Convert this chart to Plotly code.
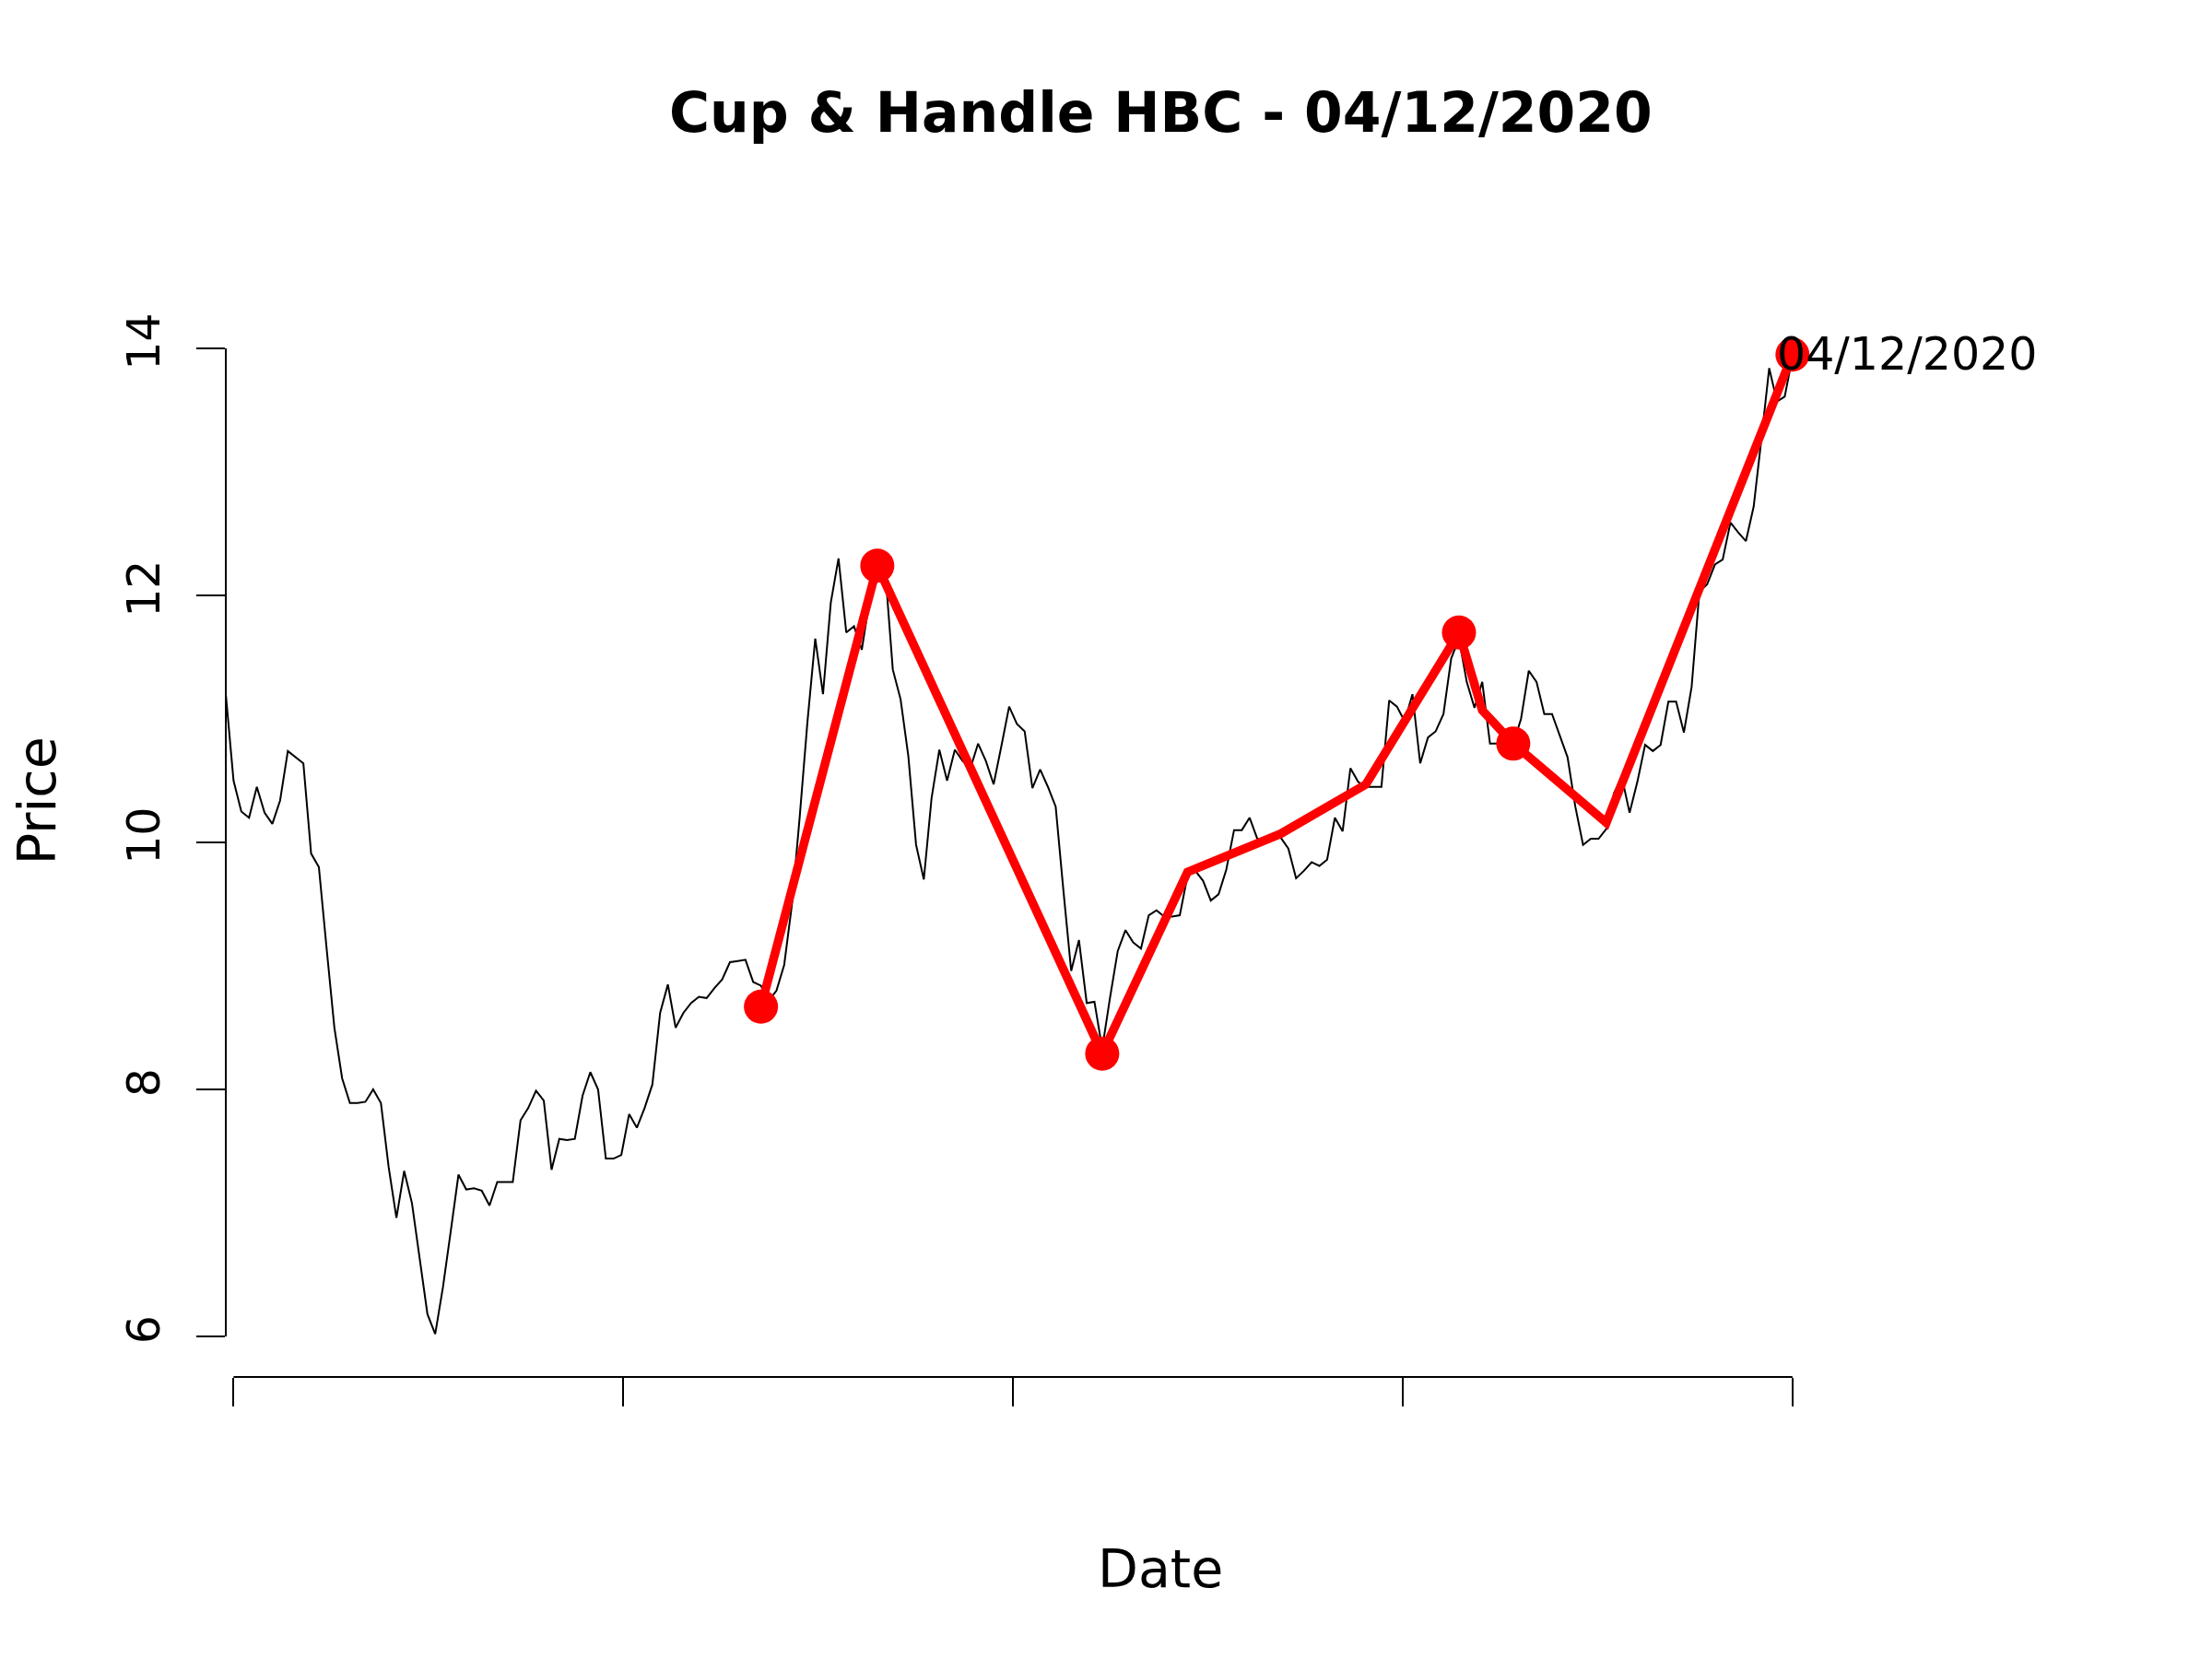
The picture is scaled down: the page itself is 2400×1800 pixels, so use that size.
import plotly.graph_objects as go

# ---------------- data ----------------
price = [
    11.20, 10.50, 10.25, 10.20, 10.45, 10.24, 10.15, 10.34, 10.74, 10.69,
    10.64, 9.91, 9.80, 9.14, 8.50, 8.09, 7.89, 7.89, 7.90, 8.00,
    7.89, 7.37, 6.96, 7.34, 7.08, 6.63, 6.18, 6.02, 6.40, 6.85,
    7.31, 7.19, 7.20, 7.18, 7.06, 7.25, 7.25, 7.25, 7.75, 7.85,
    7.99, 7.91, 7.35, 7.60, 7.59, 7.60, 7.95, 8.14, 8.00, 7.44,
    7.44, 7.47, 7.80, 7.69, 7.85, 8.04, 8.62, 8.85, 8.50, 8.62,
    8.70, 8.75, 8.74, 8.82, 8.89, 9.03, 9.04, 9.05, 8.87, 8.84,
    8.72, 8.80, 9.01, 9.50, 10.21, 10.98, 11.65, 11.20, 11.94, 12.30,
    11.70, 11.75, 11.56, 11.96, 12.13, 12.22, 11.40, 11.16, 10.70, 9.98,
    9.70, 10.36, 10.75, 10.50, 10.75, 10.66, 10.60, 10.80, 10.66, 10.47,
    10.78, 11.10, 10.96, 10.90, 10.44, 10.59, 10.45, 10.29, 9.61, 8.96,
    9.21, 8.70, 8.71, 8.33, 8.74, 9.12, 9.29, 9.19, 9.14, 9.41,
    9.45, 9.40, 9.40, 9.41, 9.73, 9.77, 9.69, 9.53, 9.58, 9.78,
    10.10, 10.10, 10.20, 10.03, 10.02, 10.03, 10.04, 9.95, 9.71, 9.77,
    9.84, 9.81, 9.86, 10.20, 10.09, 10.60, 10.49, 10.45, 10.45, 10.45,
    11.15, 11.10, 10.98, 11.20, 10.64, 10.85, 10.90, 11.04, 11.49, 11.65,
    11.30, 11.09, 11.30, 10.80, 10.80, 10.80, 10.80, 11.00, 11.39, 11.30,
    11.04, 11.04, 10.86, 10.69, 10.29, 9.98, 10.03, 10.03, 10.11, 10.40,
    10.53, 10.24, 10.49, 10.79, 10.74, 10.79, 11.14, 11.14, 10.89, 11.26,
    12.03, 12.09, 12.25, 12.29, 12.59, 12.51, 12.44, 12.72, 13.27, 13.84,
    13.57, 13.61, 13.93,
]
day = list(range(len(price)))

# cup & handle pattern outline (day index, price)
pattern_day = [69, 84, 113, 124, 136, 147, 159, 162, 166, 178, 202]
pattern_price = [8.67, 12.24, 8.29, 9.76, 10.07, 10.47, 11.70, 11.07, 10.80, 10.16, 13.95]

# key points of the pattern (red dots)
key_day = [69, 84, 113, 159, 166, 202]
key_price = [8.67, 12.24, 8.29, 11.70, 10.80, 13.95]

signal_label = "04/12/2020"
title_text = "Cup & Handle HBC - 04/12/2020"
x_label = "Date"
y_label = "Price"

y_ticks = [6, 8, 10, 12, 14]
x_tick_pos = [1, 51.25, 101.5, 151.75, 202]
x_tick_text = ["", "", "", "", ""]

# ---------------- figure ----------------
FONT = "DejaVu Sans"

fig = go.Figure()

fig.add_trace(go.Scatter(
    x=day, y=price, mode="lines",
    line=dict(color="black", width=2),
    hoverinfo="skip", showlegend=False,
))

fig.add_trace(go.Scatter(
    x=pattern_day, y=pattern_price, mode="lines",
    line=dict(color="#FF0000", width=9.5),
    hoverinfo="skip", showlegend=False,
))

fig.add_trace(go.Scatter(
    x=key_day, y=key_price, mode="markers",
    marker=dict(color="#FF0000", size=37, line=dict(width=0)),
    cliponaxis=False,
    hoverinfo="skip", showlegend=False,
))

# label at the last key point
fig.add_annotation(
    x=key_day[-1], y=key_price[-1], xref="x", yref="y",
    text=signal_label, showarrow=False,
    xanchor="left", yanchor="middle", xshift=-19,
    font=dict(family=FONT, size=49, color="black"),
)

# axis titles
fig.add_annotation(
    x=0.5, y=-0.166, xref="paper", yref="paper",
    text=x_label, showarrow=False, xanchor="center", yanchor="middle",
    font=dict(family=FONT, size=57, color="black"),
)
fig.add_annotation(
    x=-0.1044, y=0.5, xref="paper", yref="paper", xshift=7,
    text=y_label, showarrow=False, textangle=-90,
    xanchor="center", yanchor="middle",
    font=dict(family=FONT, size=57, color="black"),
)
# title
fig.add_annotation(
    x=0.5, y=1.0976, xref="paper", yref="paper",
    text="<b>" + title_text + "</b>", showarrow=False,
    xanchor="center", yanchor="middle",
    font=dict(family=FONT, size=60, color="black"),
)

# R-style detached axis lines
fig.add_shape(type="line", xref="paper", yref="y",
              x0=0, x1=0, y0=min(y_ticks), y1=max(y_ticks),
              line=dict(color="black", width=2))
fig.add_shape(type="line", xref="x", yref="paper",
              x0=x_tick_pos[0], x1=x_tick_pos[-1], y0=0, y1=0,
              line=dict(color="black", width=2))

fig.update_layout(
    width=2392, height=1792,
    margin=dict(l=237, r=127, t=236, b=306, autoexpand=False),
    paper_bgcolor="white", plot_bgcolor="white",
    showlegend=False,
    font=dict(family=FONT, color="black"),
    xaxis=dict(
        range=[0, 241], showgrid=False, zeroline=False, showline=False,
        tickmode="array", tickvals=x_tick_pos, ticktext=x_tick_text,
        ticks="outside", ticklen=31, tickwidth=2, tickcolor="black",
        showticklabels=False, fixedrange=True,
    ),
    yaxis=dict(
        range=[5.672, 15.0], showgrid=False, zeroline=False, showline=False,
        tickmode="array", tickvals=y_ticks,
        ticktext=[str(v) for v in y_ticks],
        ticks="outside", ticklen=31, tickwidth=2, tickcolor="black",
        tickangle=-90, ticklabelstandoff=20,
        tickfont=dict(family=FONT, size=49, color="black"),
        fixedrange=True,
    ),
)

fig.write_html("out.html")
